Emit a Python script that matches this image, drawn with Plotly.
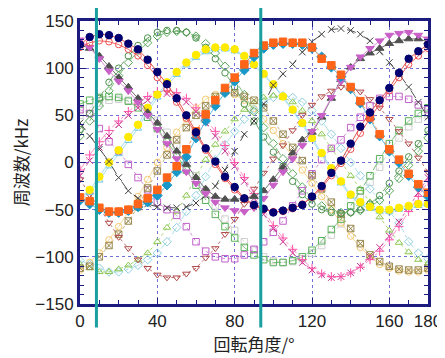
import plotly.graph_objects as go

angle = [0, 5, 10, 15, 20, 25, 30, 35, 40, 45, 50, 55, 60, 65, 70, 75, 80, 85, 90,
         95, 100, 105, 110, 115, 120, 125, 130, 135, 140, 145, 150, 155, 160, 165, 170, 175, 180]

navy_fc = [125, 133, 136, 135, 132, 126, 120, 109, 96, 83, 68, 50, 32, 15, 1, -15, -26, -38, -45,
           -49, -53, -51, -48, -45, -36, -25, -11, 2, 20, 38, 53, 66, 79, 95, 110, 118, 125]
red_oc = [122, 127, 129, 128, 125, 120, 113, 103, 90, 78, 64, 47, 29, 13, -2, -17, -29, -39, -46,
          -50, -52, -52, -49, -44, -37, -27, -14, -1, 14, 31, 47, 62, 76, 90, 104, 113, 121]
yellow_fc = [-38, -29, -15, 0, 13, 27, 40, 58, 72, 85, 96, 106, 114, 120, 122, 122, 120, 113, 104,
             94, 83, 70, 56, 42, 26, 10, -6, -20, -34, -42, -47, -50, -50, -48, -46, -44, -44]
cyan_ot = [-40, -32, -19, -4, 9, 23, 36, 54, 69, 82, 93, 103, 111, 117, 120, 120, 118, 112, 103,
           93, 82, 69, 55, 40, 24, 8, -8, -22, -36, -44, -49, -52, -52, -50, -48, -46, -45]
orange_fs = [-37, -41, -48, -52, -52, -50, -44, -38, -29, -16, -4, 14, 33, 51, 66, 79, 90, 104, 116,
             124, 127, 128, 127, 127, 122, 110, 103, 93, 80, 65, 48, 30, 14, 3, -12, -23, -32]
cyan_fd = [-40, -44, -50, -53, -53, -51, -47, -42, -35, -24, -10, 6, 26, 44, 60, 74, 86, 98, 112,
           121, 125, 126, 126, 125, 121, 112, 101, 91, 78, 63, 46, 28, 12, 0, -14, -26, -36]
black_x = [42, 28, 14, 1, -16, -30, -38, -44, -47, -48, -48, -47, -43, -35, -25, -8, 12, 30, 44,
           62, 82, 94, 104, 117, 128, 136, 141, 142, 140, 136, 129, 118, 106, 94, 80, 64, 48]
gray_ft = [125, 121, 113, 102, 90, 80, 68, 53, 42, 28, 12, -2, -16, -28, -36, -39, -39, -38, -36,
           -30, -18, -5, 10, 24, 32, 48, 68, 88, 101, 110, 116, 121, 126, 129, 131, 131, 128]
violet_fdt = [130, 122, 110, 97, 86, 76, 64, 50, 35, 20, 4, -10, -22, -33, -42, -48, -51, -52, -48,
              -38, -24, -10, 4, 18, 33, 50, 69, 86, 101, 112, 121, 129, 135, 137, 138, 135, 131]
pink_plus = [-8, 8, 22, 34, 44, 54, 63, 70, 75, 76, 74, 68, 58, 46, 33, 18, 0, -16, -33,
             -50, -67, -80, -92, -103, -112, -118, -121, -121, -117, -111, -103, -94, -82, -68, -52, -36, -20]
magenta_x = [-14, 2, 16, 28, 40, 50, 58, 66, 71, 73, 71, 64, 54, 42, 28, 12, -4, -20, -38,
             -55, -70, -84, -96, -106, -114, -119, -122, -121, -117, -110, -100, -90, -78, -63, -48, -32, -16]
brown_odt = [-18, -34, -48, -64, -79, -91, -103, -112, -119, -122, -122, -118, -112, -101, -91, -76, -60, -44, -28,
             -11, 4, 18, 34, 50, 61, 70, 76, 80, 80, 75, 67, 58, 46, 33, 20, 5, -10]
lgreen_ot = [-108, -112, -116, -116, -113, -109, -103, -96, -84, -69, -52, -35, -15, 3, 19, 33, 46, 56, 64,
             69, 71, 69, 64, 55, 44, 30, 15, 0, -14, -28, -42, -58, -72, -85, -95, -103, -107]
lblue_od = [-104, -108, -112, -116, -116, -113, -109, -103, -96, -84, -69, -52, -35, -15, 3, 19, 33, 46, 56,
            64, 69, 71, 69, 64, 55, 44, 30, 15, 0, -14, -28, -40, -52, -64, -84, -96, -102]
violet_os = [56, 52, 36, 22, 12, -2, -16, -29, -42, -50, -56, -68, -84, -94, -100, -102, -102, -98, -92,
             -84, -74, -62, -46, -30, -12, 3, 15, 24, 37, 48, 60, 68, 70, 70, 67, 61, 56]
green_os = [62, 66, 69, 70, 69, 65, 58, 48, 36, 22, 8, -8, -24, -40, -55, -68, -80, -90, -98,
            -103, -106, -106, -104, -100, -93, -83, -71, -60, -46, -30, -14, 4, 20, 34, 44, 52, 58]
lgray_os = [50, 58, 63, 66, 67, 66, 62, 55, 45, 32, 18, 2, -14, -30, -46, -60, -72, -84, -93,
            -100, -104, -106, -105, -102, -96, -88, -77, -65, -52, -37, -21, -5, 12, 26, 38, 46, 50]
olive_sx = [-112, -110, -100, -88, -76, -62, -47, -27, -9, 8, 24, 37, 50, 60, 70, 76, 74, 70, 66,
            58, 44, 30, 16, 2, -14, -28, -42, -55, -70, -86, -98, -105, -110, -113, -114, -114, -112]
lorange_oc = [-114, -106, -96, -82, -68, -52, -36, -18, 0, 16, 32, 46, 58, 67, 72, 74, 72, 66, 57,
              46, 34, 20, 6, -8, -22, -36, -50, -64, -78, -90, -100, -108, -112, -115, -116, -116, -114]
dgreen_oc = [35, 52, 68, 85, 100, 113, 124, 132, 138, 140, 140, 138, 132, 122, 110, 95, 80, 62, 44,
             27, 11, -4, -20, -34, -44, -50, -53, -54, -53, -50, -44, -35, -22, -9, 6, 20, 34]
green_od = [28, 44, 60, 76, 92, 106, 118, 127, 134, 138, 139, 138, 134, 126, 116, 102, 88, 72, 54,
            37, 20, 4, -12, -26, -38, -46, -51, -53, -53, -51, -47, -40, -30, -17, -3, 12, 26]

marker_lines = [8.5, 93.5]
x_ticks = [0, 40, 80, 120, 160, 180]
y_ticks = [-150, -100, -50, 0, 50, 100, 150]

# (values, marker symbol, marker color, line color, dash)
series = [
    (lgray_os, "square-open", "#cfcfcf", "#dddddd", "dot"),
    (lorange_oc, "circle-open", "#f5c870", "#f8dc9c", "solid"),
    (lblue_od, "diamond-open", "#8fd0e0", "#b0e0ea", "dashdot"),
    (green_od, "diamond-open", "#5aa85a", "#80c080", "dash"),
    (lgreen_ot, "triangle-up-open", "#8cc850", "#a8d878", "dot"),
    (green_os, "square-open", "#58b058", "#78c078", "dashdot"),
    (violet_os, "square-open", "#c060c8", "#d090d8", "dot"),
    (olive_sx, "square-x-open", "#9a8850", "#c0b080", "dot"),
    (brown_odt, "triangle-down-open", "#b04848", "#c07070", "dot"),
    (magenta_x, "x-thin-open", "#c03090", "#d070b0", "dot"),
    (pink_plus, "cross-thin-open", "#ff50a8", "#ff90c8", "dashdot"),
    (dgreen_oc, "circle-open", "#4a904a", "#70a870", "dash"),
    (cyan_ot, "triangle-up-open", "#70c8e8", "#a8e0f0", "solid"),
    (yellow_fc, "circle", "#ffea00", "#a8e0f0", "solid"),
    (black_x, "x-thin-open", "#404040", "#505050", "dash"),
    (gray_ft, "triangle-up", "#505050", "#707070", "solid"),
    (violet_fdt, "triangle-down", "#c860c8", "#e090e0", "solid"),
    (cyan_fd, "diamond", "#1898c8", "#60b8e0", "solid"),
    (orange_fs, "square", "#ff6418", "#ff9050", "dot"),
    (red_oc, "circle-open", "#f05050", "#f06060", "solid"),
    (navy_fc, "circle", "#000070", "#e05050", "solid"),
]

fig = go.Figure()
for vals, sym, mcol, lcol, dash in series:
    filled = not sym.endswith("open")
    fig.add_trace(go.Scatter(
        x=angle, y=vals, mode="lines+markers",
        line=dict(color=lcol, width=1, dash=dash),
        marker=dict(symbol=sym, size=7.5 if filled else 6.5, color=mcol,
                    line=dict(color=mcol, width=1)),
        showlegend=False,
    ))

for xv in marker_lines:
    fig.add_shape(type="line", xref="x", yref="paper", x0=xv, x1=xv,
                  y0=-0.083, y1=1.065, line=dict(color="#1aa0a0", width=3),
                  layer="above")

axis_col = "#1c1c80"
common = dict(showgrid=True, gridcolor="#7070d8", griddash="dot", gridwidth=1,
              showline=True, linecolor=axis_col, linewidth=3, mirror="allticks",
              ticks="inside", ticklen=6, tickcolor=axis_col, tickwidth=1,
              zeroline=False, automargin=False,
              tickfont=dict(family="Liberation Sans, Arial", size=17, color="#222222"))
fig.update_xaxes(range=[0, 180], tickvals=x_ticks,
                 minor=dict(dtick=10, ticks="inside", ticklen=4, tickcolor=axis_col, showgrid=False),
                 title=dict(text="回転角度/°", font=dict(family="Noto Sans CJK JP", size=17, color="#222222"),
                            standoff=8), **common)
fig.update_yaxes(range=[-150, 150], tickvals=y_ticks,
                 minor=dict(dtick=10, ticks="inside", ticklen=4, tickcolor=axis_col, showgrid=False),
                 title=dict(text="周波数/kHz", font=dict(family="Noto Sans CJK JP", size=17, color="#222222"),
                            standoff=6), **common)

# the page body adds an 8px margin, so the figure is sized to fit the window
fig.update_layout(width=437, height=350, margin=dict(l=72, r=17, t=13, b=54),
                  plot_bgcolor="white", paper_bgcolor="white")

fig.write_html("out.html")
